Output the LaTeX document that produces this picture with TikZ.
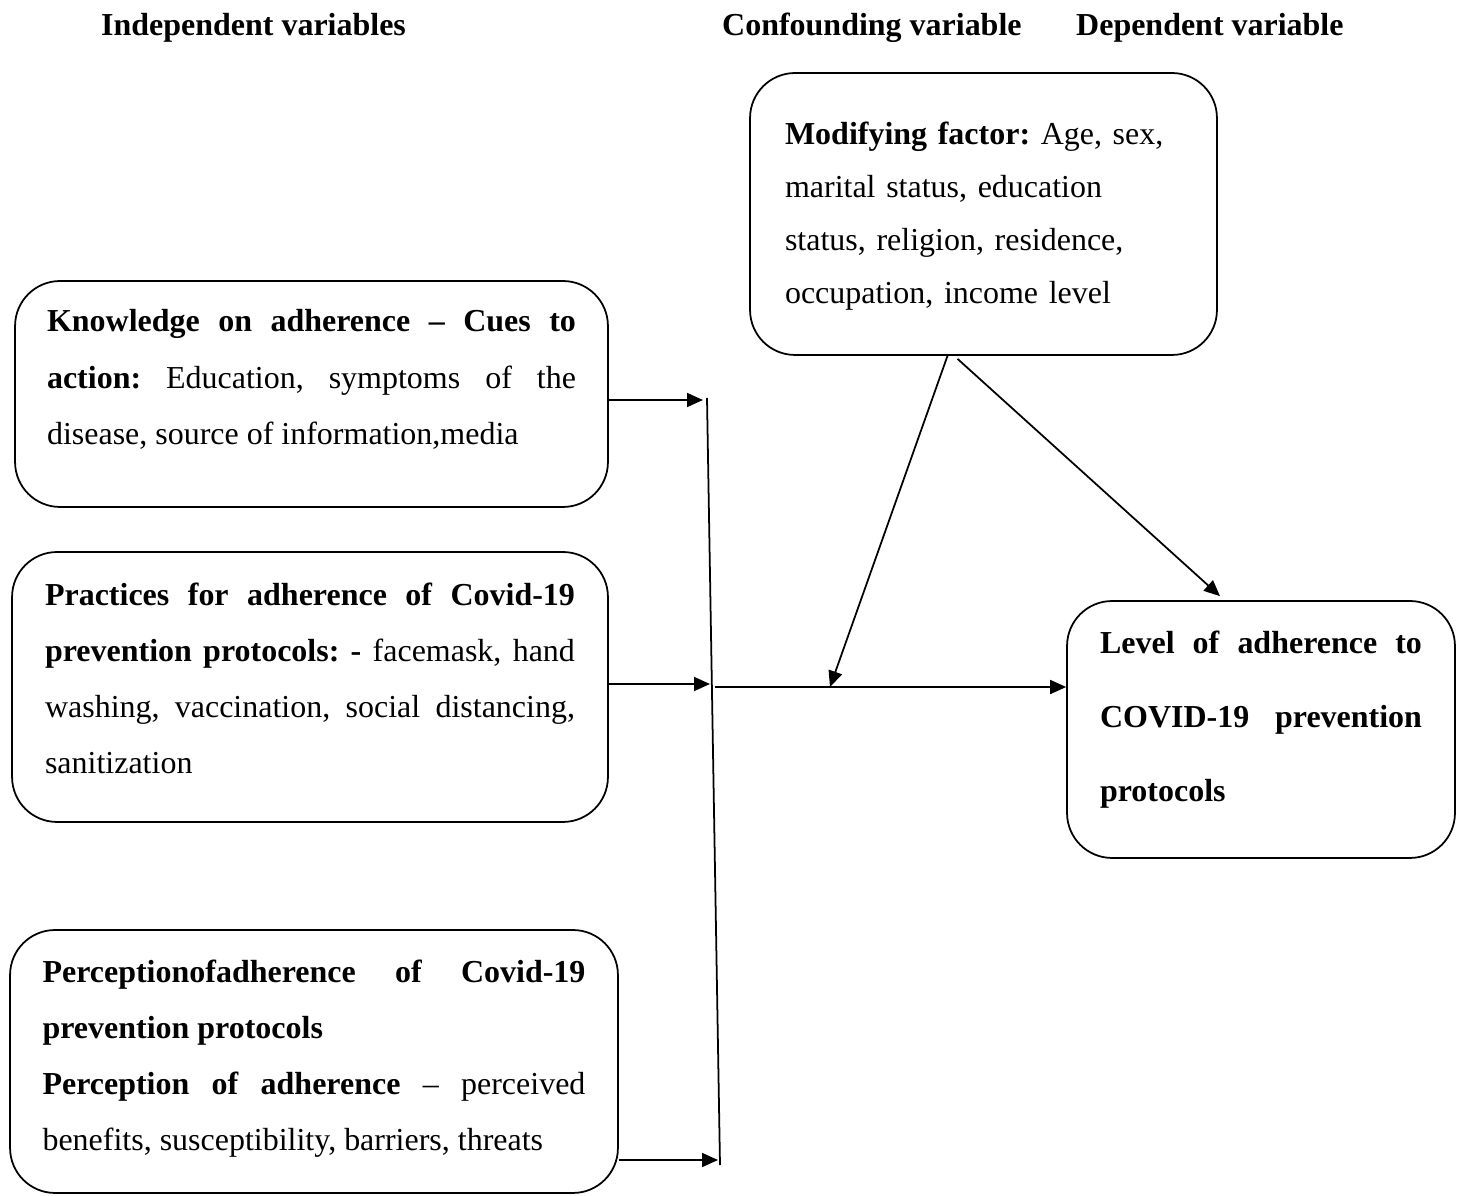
\documentclass[tikz,border=0pt]{standalone}
\usepackage{fontspec}
\setmainfont{Liberation Serif}
\usetikzlibrary{arrows.meta, calc}
\frenchspacing

\tikzset{
  var/.style={draw, rounded corners=0.9cm, line width=1pt, inner ysep=0pt, anchor=base,
    align=justify, font=\fontsize{18.2}{31.9}\selectfont},
  hd/.style={anchor=base west, font=\fontsize{18.2}{22}\selectfont\bfseries},
  arr/.style={-{Triangle[length=0.32cm,width=0.28cm]}, line width=1pt}
}

\begin{document}
\begin{tikzpicture}[x=0.02cm, y=-0.02cm]
		\useasboundingbox (0,0) rectangle (1464,1196);
		\node[hd] (Hi) at (95,36) {Independent variables};
		\node[hd] (Hc) at (716,36) {Confounding variable};
		\node[hd] (Hd) at (1070,36) {Dependent variable};
		\node[var, text width=10.58cm, inner xsep=0.64cm, text height=1.02cm, text depth=3.5cm] (Kn) at (311.5,332)
			{\textbf{Knowledge on adherence – Cues to}\linebreak \textbf{action:} Education, symptoms of the\linebreak disease, source of information,media};
		\node[var, text width=10.6cm, inner xsep=0.66cm, text height=1.06cm, text depth=4.34cm] (Pr) at (310,605)
			{\textbf{Practices for adherence of Covid-19}\linebreak \textbf{prevention protocols: -} facemask, hand\linebreak washing, vaccination, social distancing,\linebreak sanitization};
		\node[var, text width=10.86cm, inner xsep=0.65cm, text height=1.04cm, text depth=4.22cm] (Pe) at (314,982)
			{\textbf{Perceptionofadherence of Covid-19}\linebreak \textbf{prevention protocols}\newline \textbf{Perception of adherence} – perceived\linebreak benefits, susceptibility, barriers, threats};
		\node[var, align=left, text width=7.94cm, inner xsep=0.7cm, text height=1.44cm, text depth=4.2cm,
			font=\fontsize{18.2}{30}\selectfont] (Mo) at (983.5,145)
			{\textbf{Modifying factor:} Age, sex,\\ marital status, education\\ status, religion, residence,\\ occupation, income level};
		\node[var, text width=6.44cm, inner xsep=0.66cm, text height=1.04cm, text depth=4.1cm,
			font=\fontsize{18.2}{42.4}\selectfont\bfseries] (Le) at (1261,653)
			{Level of adherence to\linebreak COVID-19 prevention\linebreak protocols};
		\coordinate (k) at (703,400);
		\coordinate (p) at (710,684);
		\coordinate (q) at (718,1160);
		\coordinate (bt) at (707,398);
		\coordinate (bb) at (720,1165);
		\coordinate (j) at (715,687);
		\coordinate (m) at (830,687);
		\draw[line width=1pt] (bt) -- (bb);
		\path[arr] (Kn.east |- k) edge (k)
			(Pr.east |- p) edge (p)
			(Pe.east |- q) edge (q)
			(j) edge (j -| Le.west)
			($(Mo.south) + (-36,0)$) edge (m)
			($(Mo.south) + (-26,3)$) edge ($(Le.north) + (-41,-4)$);
	\end{tikzpicture}
\end{document}
